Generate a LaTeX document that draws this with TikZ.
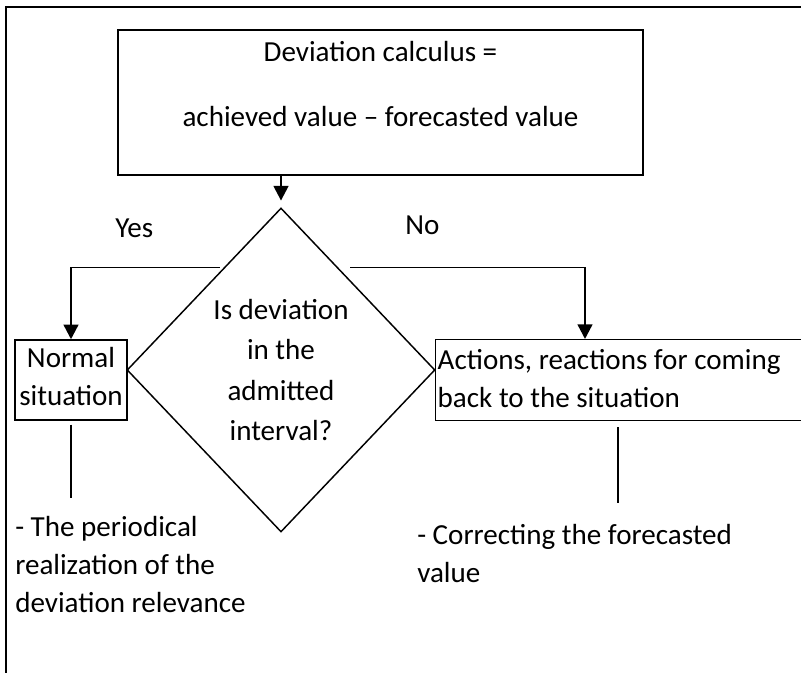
\documentclass[tikz,border=0pt]{standalone}
\usepackage{fontspec}
\setmainfont{Carlito}
\usetikzlibrary{shapes.geometric,arrows.meta,calc}
\begin{document}
\begin{tikzpicture}[x=0.75pt,y=-0.75pt,
  every node/.style={font=\fontsize{21.8pt}{28.5pt}\selectfont, inner sep=0pt},
  box/.style={draw, line width=1.1pt},
  link/.style={line width=1.2pt},
  feed/.style={line width=1.8pt, -{Triangle[width=11pt,length=11pt]}},
  stem/.style={line width=1pt}]
\useasboundingbox (0,0) rectangle (801,673);
% page frame (top and left rules)
\draw[line width=1.5pt] (6,673) -- (6,7) -- (810,7);

% formula box
\node[box, minimum width=393.75pt, minimum height=108.75pt, align=center,
      text depth=27.75pt] (dev) at (380.5,102.5)
  {Deviation calculus =\\[20.25pt]achieved value – forecasted value};

% decision
\node[diamond, draw, line width=1.1pt, minimum width=231pt, minimum height=243pt,
      align=center, font=\fontsize{21.8pt}{30.4pt}\selectfont] (d) at (281,370)
  {Is deviation\\in the\\admitted\\interval?};

% outcomes
\node[box, minimum width=84pt, minimum height=60pt, align=center, text depth=5pt]
  (n) at (71,380) {Normal\\situation};
\node[box, anchor=north west, text width=304.5pt, inner xsep=1.5pt,
      minimum height=60.75pt, align=flush left, text depth=31.5pt]
  (a) at (435,339) {Actions, reactions for coming\\back to the situation};

% branch labels
\node[anchor=base west] (yes) at (115,238) {Yes};
\node[anchor=base west] (no) at (405,235) {No};

% notes
\node[anchor=base west, align=left] (pl) at (15,613)
  {- The periodical\\realization of the\\deviation relevance};
\node[anchor=base west, align=left] (pr) at (417,583)
  {- Correcting the forecasted\\value};

% connectors
\draw[feed, shorten >=5pt] (dev.south -| d.north) -- (d.north);

\coordinate (lstart) at ($(d.north)!0.37!(d.west)+(-4,0)$);
\coordinate (rstart) at ($(d.north)!0.37!(d.east)+(12,0)$);
\coordinate (lbend) at (n.north |- lstart);
\coordinate (ain) at ($(a.north west)+(150,0)$);
\coordinate (rbend) at (ain |- rstart);
\draw[link] (lstart) -- (lbend);
\draw[feed] (lbend) -- (n.north);
\draw[link] (rstart) -- (rbend);
\draw[feed] (rbend) -- (ain);

\coordinate (nlow) at ($(n.south)+(0,77)$);
\draw[stem] ($(n.south)+(0,4)$) -- (nlow);
\coordinate (alow) at ($(a.south west)+(183,82)$);
\draw[stem] ($(a.south west)+(183,6)$) -- (alow);
\end{tikzpicture}
\end{document}
